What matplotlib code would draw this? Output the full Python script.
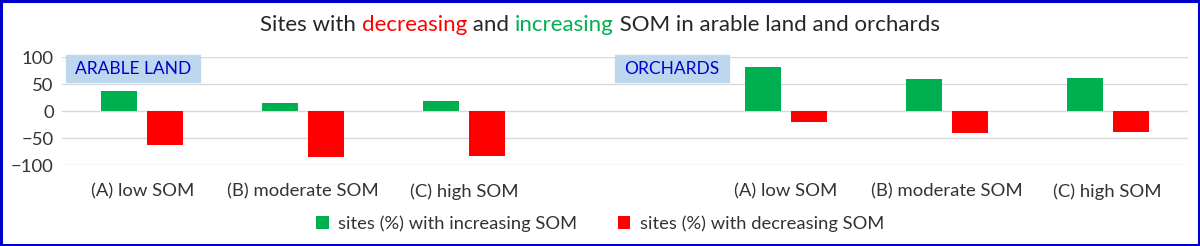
import numpy as np
import matplotlib.pyplot as plt
from matplotlib.patches import Rectangle
from matplotlib.offsetbox import TextArea, HPacker, AnchoredOffsetbox

plt.rcParams['font.family'] = ['Lato', 'DejaVu Sans']

# Dados
categorias = ['(A) low SOM', '(B) moderate SOM', '(C) high SOM', '',
              '(A) low SOM', '(B) moderate SOM', '(C) high SOM']
aumento = [38, 15, 18, np.nan, 81, 60, 62]
diminuicao = [-63, -85, -83, np.nan, -20, -41, -39]
yticks = [-100, -50, 0, 50, 100]

verde = '#00B050'
vermelho = '#FF0000'

fig = plt.figure(figsize=(12, 2.46), dpi=100)
ax = fig.add_axes([0.0517, 0.329, 0.9383, 0.439])

x = np.arange(len(categorias))
w = 0.224
ax.bar(x - 0.143, aumento, w, color=verde, label='sites (%) with increasing SOM', zorder=3)
ax.bar(x + 0.143, diminuicao, w, color=vermelho, label='sites (%) with decreasing SOM', zorder=3)

ax.set_xlim(-0.5, len(categorias) - 0.5)
ax.set_ylim(-100, 100)
ax.set_yticks(yticks)
ax.set_xticks(x)
ax.set_xticklabels(categorias)
ax.tick_params(axis='both', length=0, labelsize=13.3, colors='#333333')
ax.tick_params(axis='x', pad=13)
ax.tick_params(axis='y', pad=6)
ax.grid(axis='y', color='#D9D9D9', linewidth=1, zorder=0)
for s in ax.spines.values():
    s.set_visible(False)

# Titulo com cores
partes = [('Sites with ', '#262626'), ('decreasing', vermelho), (' and ', '#262626'),
          ('increasing', verde), (' SOM in arable land and orchards', '#262626')]
caixas = [TextArea(t, textprops=dict(color=c, fontsize=16)) for t, c in partes]
pack = HPacker(children=caixas, align='baseline', pad=0, sep=0)
anc = AnchoredOffsetbox(loc='center', child=pack, frameon=False,
                        bbox_to_anchor=(0.5, 0.9), bbox_transform=fig.transFigure)
fig.add_artist(anc)

# Rotulos das secoes
for x0, x1, txt in [(66, 200, 'ARABLE LAND'), (615, 729, 'ORCHARDS')]:
    fig.patches.append(Rectangle((x0 / 1200, (246 - 82) / 246), (x1 - x0) / 1200, 27 / 246,
                                 transform=fig.transFigure, color='#BDD7EE', zorder=1))
    fig.text((x0 + x1) / 2400, (246 - 69) / 246, txt, ha='center', va='center',
             color='#0000CC', fontsize=12.5, zorder=2)

# Legenda
fig.legend(loc='center', bbox_to_anchor=(0.5, 0.09), ncol=2, frameon=False,
           fontsize=13.2, handlelength=0.7, handleheight=0.7, columnspacing=2.2,
           handletextpad=0.5, labelcolor='#333333')

# Moldura azul
fig.patches.append(Rectangle((0.001, 0.003), 0.998, 0.994, transform=fig.transFigure,
                             fill=False, edgecolor='#0000CC', linewidth=2.2))

fig.savefig('out.png', dpi=100)
